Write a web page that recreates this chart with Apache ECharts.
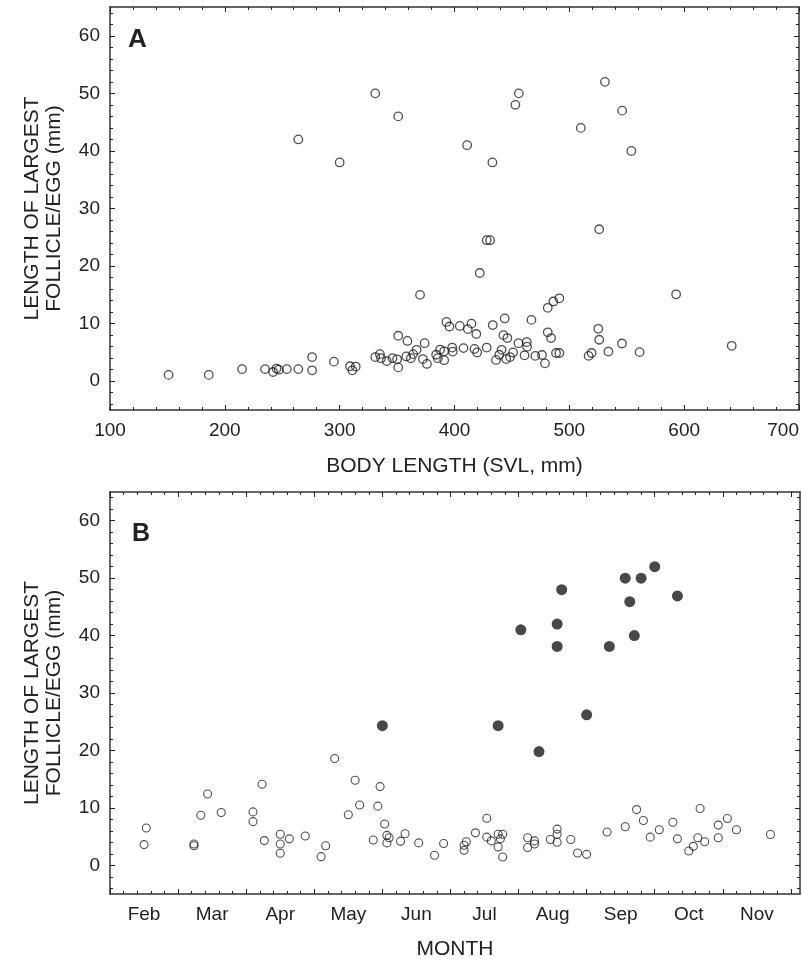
<!DOCTYPE html>
<html>
<head>
<meta charset="utf-8">
<script src="https://cdn.jsdelivr.net/npm/echarts@6/dist/echarts.min.js"></script>
<style>
  html, body { margin: 0; padding: 0; background: #fff; }
  #chart { width: 802px; height: 965px; }
</style>
</head>
<body>
<div id="chart"></div>
<script>
// Panel A: body length (SVL, mm) vs length of largest follicle/egg (mm)
const svlA = [
  264, 300, 331, 351, 411, 433, 453, 456, 510, 531, 546, 554,
  370, 422, 428, 431, 526, 593,
  151, 186, 215, 235, 242, 245, 247, 254, 264, 276, 276, 295, 309, 311, 314,
  331, 335, 336, 341, 346, 350, 351, 351,
  359, 358, 362, 364, 367, 374, 372.5, 376, 384, 385.5, 387.5, 391, 391,
  393, 395.6, 398, 398.5, 404.6, 407.8, 411.6, 414.8, 417.4, 419, 419.7,
  428, 433.3, 436.2, 439, 441, 442.6, 443.7, 445, 446, 448.4, 451, 455.7,
  461, 462.9, 463.2, 467, 470.4, 476.2, 478.8, 481.2, 484.1, 481.2, 486.1,
  491.3, 488.4, 491.3, 516.8, 519.4, 525.2, 526, 534, 545.8, 561.2, 641.4
];
const follicleA = [
  42, 38, 50, 46, 41, 38, 48, 50, 44, 52, 47, 40,
  15, 18.8, 24.5, 24.5, 26.4, 15.1,
  1.1, 1.1, 2.1, 2.1, 1.6, 2.2, 2.0, 2.1, 2.1, 4.2, 1.9, 3.4, 2.6, 1.9, 2.55,
  4.2, 4.7, 4.0, 3.5, 4.0, 3.8, 7.9, 2.4,
  7.0, 4.3, 4.0, 4.7, 5.45, 6.6, 3.85, 3.0, 4.6, 4.0, 5.5, 5.2, 3.65,
  10.3, 9.5, 5.85, 5.15, 9.6, 5.75, 9.05, 10.0, 5.6, 8.2, 5.0,
  5.85, 9.75, 3.7, 4.6, 5.45, 8.0, 10.9, 3.85, 7.5, 4.2, 5.0, 6.6,
  4.5, 6.8, 6.0, 10.65, 4.4, 4.55, 3.1, 8.5, 7.5, 12.75, 13.85,
  14.4, 4.9, 4.9, 4.4, 4.9, 9.1, 7.2, 5.15, 6.55, 5.05, 6.15
];

// Panel B: day counted from 1 February; open = follicles, filled = oviductal eggs
const dayFollicle = [
  15, 16, 37, 37, 40, 43, 49, 63, 63, 67, 68, 75, 75, 75, 79, 86, 93, 95,
  99, 105, 108, 110, 116, 118, 119, 121, 122, 123, 122, 128, 130, 136, 143, 147,
  156, 156, 157, 161, 166, 166, 168, 171, 173, 172, 171, 173,
  184, 184, 187, 187, 194, 197, 197, 197, 203, 206, 210,
  219, 227, 232, 235, 238, 242, 248, 250, 255, 257, 259, 260, 262,
  268, 268, 272, 276, 291
];
const sizeFollicle = [
  3.6, 6.5, 3.7, 3.4, 8.7, 12.4, 9.2, 9.3, 7.6, 14.1, 4.3, 5.4, 3.7, 2.1, 4.6, 5.1, 1.5, 3.4,
  18.6, 8.8, 14.8, 10.5, 4.4, 10.3, 13.7, 7.2, 5.2, 4.8, 3.9, 4.2, 5.5, 3.9, 1.75, 3.8,
  2.6, 3.5, 4.1, 5.65, 8.2, 4.9, 4.25, 5.4, 5.4, 4.6, 3.2, 1.45,
  4.8, 3.1, 4.25, 3.7, 4.5, 6.3, 5.4, 4.0, 4.5, 2.15, 1.9,
  5.8, 6.7, 9.7, 7.8, 4.9, 6.2, 7.5, 4.6, 2.5, 3.3, 4.8, 9.9, 4.1,
  7.0, 4.8, 8.15, 6.2, 5.35
];
const dayEgg = [120, 171, 181, 189, 197, 197, 199, 210, 220, 227, 229, 231, 234, 240, 250];
const sizeEgg = [24.3, 24.3, 41, 19.8, 42, 38.1, 48, 26.2, 38.1, 50, 45.9, 40, 50, 52, 46.9];

const monthLabels = ["Feb", "Mar", "Apr", "May", "Jun", "Jul", "Aug", "Sep", "Oct", "Nov"];
const monthMid = [15, 45, 75, 105, 135, 165, 195, 225, 255, 285];
const monthStart = [0, 30, 60, 90, 120, 150, 180, 210, 240, 270, 300];
const svlTicks = [100, 200, 300, 400, 500, 600, 700];
const sizeTicks = [0, 10, 20, 30, 40, 50, 60];

const FONT = "'Liberation Sans', Arial, sans-serif";
const INK = "#222";
const yName = "LENGTH OF LARGEST\nFOLLICLE/EGG (mm)";

function steps(a, b, s, skip) {
  const out = [];
  for (let v = a; v <= b + 1e-9; v += s) {
    const r = Math.round(v * 100) / 100;
    if (!skip || Math.abs(r / skip - Math.round(r / skip)) > 1e-6) out.push(r);
  }
  return out;
}

const tickStyle = { color: INK, width: 1 };
const lineStyle = { color: "#333", width: 1.5 };
const labelStyle = { color: INK, fontSize: 19, fontFamily: FONT };
const nameStyle = { color: INK, fontSize: 21, fontFamily: FONT };

// four axes per side: labelled one, its minor ticks, opposite frame side and its minor ticks
function sideAxes(type, grid, min, max, majors, minors, label, name, nameGap) {
  const sides = type === "x" ? ["bottom", "top"] : ["left", "right"];
  const base = { type: "value", gridIndex: grid, min, max, splitLine: { show: false } };
  const axes = [];
  sides.forEach((pos, i) => {
    axes.push({
      ...base, position: pos,
      axisLine: { show: true, onZero: false, lineStyle },
      axisTick: { show: true, inside: true, length: 5, customValues: majors, lineStyle: tickStyle },
      axisLabel: i === 0 ? { ...labelStyle, ...label } : { show: false },
      name: i === 0 ? name : "",
      nameLocation: "middle",
      nameGap,
      nameTextStyle: { ...nameStyle, lineHeight: 22 }
    });
    axes.push({
      ...base, position: pos,
      axisLine: { show: false, onZero: false },
      axisTick: { show: true, inside: true, length: 3, customValues: minors, lineStyle: tickStyle },
      axisLabel: { show: false }
    });
  });
  return axes;
}

const xAxis = [
  ...sideAxes("x", 0, 100, 700, svlTicks, steps(100, 700, 20, 100),
    { customValues: svlTicks, margin: 11, alignMaxLabel: "right" }, "BODY LENGTH (SVL, mm)", 45),
  ...sideAxes("x", 1, 0, 304, monthStart, steps(0, 304, 6, 30),
    { customValues: monthMid, margin: 11, formatter: (v) => monthLabels[monthMid.indexOf(v)] }, "MONTH", 44)
];
const yAxis = [
  ...sideAxes("y", 0, -5, 65, sizeTicks, steps(-4, 64, 2, 10),
    { customValues: sizeTicks, margin: 10 }, yName, 45),
  ...sideAxes("y", 1, -5, 65, sizeTicks, steps(-4, 64, 2, 10),
    { customValues: sizeTicks, margin: 10 }, yName, 45)
];

const zip = (xs, ys) => xs.map((x, i) => [x, ys[i]]);
const openCircle = { color: "rgba(255,255,255,0)", borderColor: INK, borderWidth: 1.3 };

const chart = echarts.init(document.getElementById("chart"));
chart.setOption({
  animation: false,
  backgroundColor: "#fff",
  title: [
    { text: "A", left: 128, top: 27, padding: 0, textStyle: { fontSize: 26, fontWeight: "bold", color: INK, fontFamily: FONT } },
    { text: "B", left: 132, top: 522, padding: 0, textStyle: { fontSize: 25, fontWeight: "bold", color: INK, fontFamily: FONT } }
  ],
  grid: [
    { left: 110, top: 7, width: 690, height: 403 },
    { left: 110, top: 492, width: 690, height: 402 }
  ],
  xAxis,
  yAxis,
  series: [
    {
      type: "scatter", xAxisIndex: 0, yAxisIndex: 0,
      symbol: "circle", symbolSize: 8.5, itemStyle: openCircle,
      emphasis: { disabled: true },
      data: zip(svlA, follicleA)
    },
    {
      type: "scatter", xAxisIndex: 4, yAxisIndex: 4,
      symbol: "circle", symbolSize: 8, itemStyle: { ...openCircle, borderWidth: 1.1 },
      emphasis: { disabled: true },
      data: zip(dayFollicle, sizeFollicle)
    },
    {
      type: "scatter", xAxisIndex: 4, yAxisIndex: 4,
      symbol: "circle", symbolSize: 11, itemStyle: { color: "#1a1a1a" },
      emphasis: { disabled: true },
      data: zip(dayEgg, sizeEgg)
    }
  ]
});
</script>
</body>
</html>
